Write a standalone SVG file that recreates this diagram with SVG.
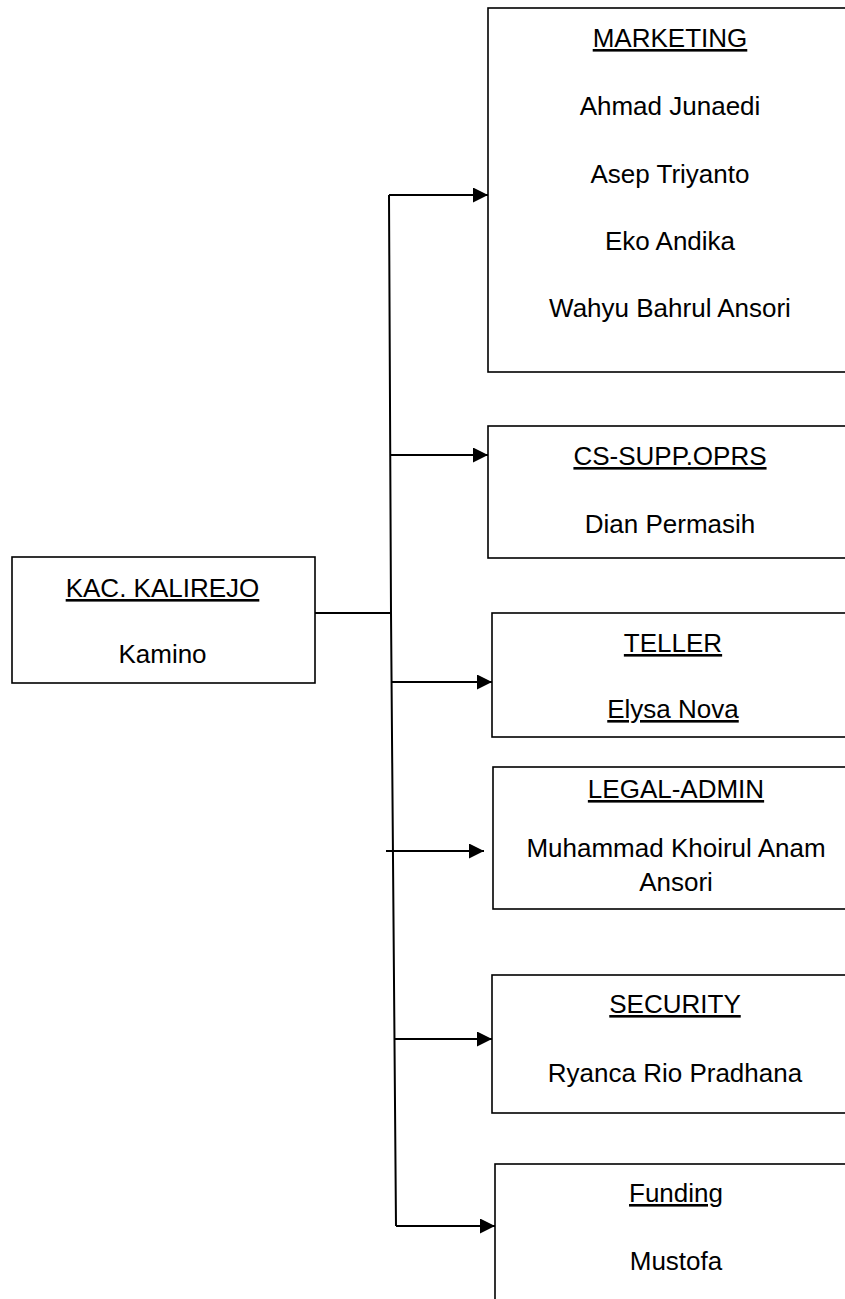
<svg xmlns="http://www.w3.org/2000/svg" width="845" height="1299" viewBox="0 0 845 1299">
<style>
.box{fill:#fff;stroke:#000;stroke-width:1.6}
.t{font-family:"Liberation Sans",Arial,sans-serif;font-size:26px;fill:#000;text-anchor:middle}
.u{text-decoration:underline}
.c{fill:none;stroke:#000;stroke-width:2}
</style>
<defs>
<marker id="ah" markerUnits="userSpaceOnUse" markerWidth="16" markerHeight="16" refX="15" refY="7.5" orient="auto">
<path d="M0,0 L15,7.5 L0,15 Z" fill="#000"/>
</marker>
</defs>
<rect width="845" height="1299" fill="#fff"/>
<g id="connectors">
<path class="c" d="M315,613 L391,613"/>
<path class="c" d="M389,195 L391,613 L396,1226"/>
<path class="c" d="M389,195 L488,195" marker-end="url(#ah)"/>
<path class="c" d="M390,455 L488,455" marker-end="url(#ah)"/>
<path class="c" d="M392,682 L492,682" marker-end="url(#ah)"/>
<path class="c" d="M386,851 L484,851" marker-end="url(#ah)"/>
<path class="c" d="M395,1039 L492,1039" marker-end="url(#ah)"/>
<path class="c" d="M396,1226 L495,1226" marker-end="url(#ah)"/>
</g>
<g id="kac">
<rect class="box" x="12" y="557" width="303" height="126"/>
<text class="t u" x="162.5" y="597">KAC. KALIREJO</text>
<text class="t" x="162.5" y="663">Kamino</text>
</g>
<g id="marketing">
<rect class="box" x="488" y="8" width="380" height="364"/>
<text class="t u" x="670" y="47">MARKETING</text>
<text class="t" x="670" y="115">Ahmad Junaedi</text>
<text class="t" x="670" y="183">Asep Triyanto</text>
<text class="t" x="670" y="250">Eko Andika</text>
<text class="t" x="670" y="317">Wahyu Bahrul Ansori</text>
</g>
<g id="cs">
<rect class="box" x="488" y="426" width="380" height="132"/>
<text class="t u" x="670" y="465">CS-SUPP.OPRS</text>
<text class="t" x="670" y="533">Dian Permasih</text>
</g>
<g id="teller">
<rect class="box" x="492" y="613" width="376" height="124"/>
<text class="t u" x="673" y="652">TELLER</text>
<text class="t u" x="673" y="718">Elysa Nova</text>
</g>
<g id="legal">
<rect class="box" x="493" y="767" width="375" height="142"/>
<text class="t u" x="676" y="798">LEGAL-ADMIN</text>
<text class="t" x="676" y="857">Muhammad Khoirul Anam</text>
<text class="t" x="676" y="891">Ansori</text>
</g>
<g id="security">
<rect class="box" x="492" y="975" width="376" height="138"/>
<text class="t u" x="675" y="1013">SECURITY</text>
<text class="t" x="675" y="1082">Ryanca Rio Pradhana</text>
</g>
<g id="funding">
<rect class="box" x="495" y="1164" width="373" height="160"/>
<text class="t u" x="676" y="1202">Funding</text>
<text class="t" x="676" y="1270">Mustofa</text>
</g>
</svg>
